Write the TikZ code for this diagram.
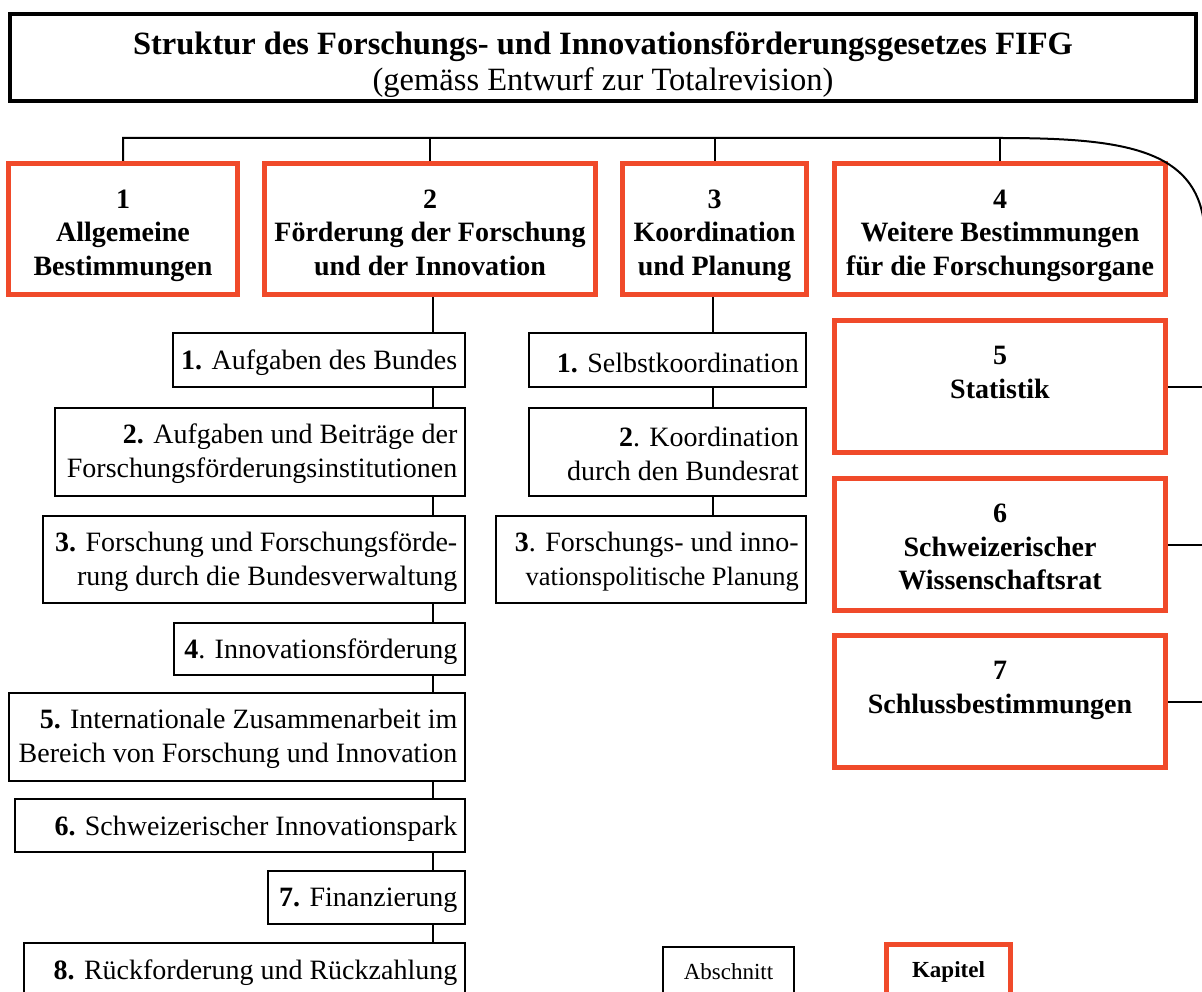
\documentclass[tikz,border=0pt]{standalone}
\usepackage{fontspec}
\setmainfont{Liberation Serif}
\definecolor{kapred}{RGB}{240,74,42}
\newcommand\fifgkapfont{\fontsize{28}{33.5}\selectfont\bfseries}
\newcommand\fifgabsfont{\fontsize{28}{34}\selectfont}
\begin{document}
\begin{tikzpicture}[x=1pt,y=-1pt,
  kapbox/.style={draw=kapred, line width=5pt, fill=white, inner sep=0pt, anchor=north west},
  kaptext/.style={font=\fifgkapfont, align=center, inner sep=0pt, anchor=north},
  abox/.style={draw=black, line width=2.2pt, fill=white, inner sep=0pt, anchor=north east},
  atext/.style={font=\fifgabsfont, align=right, inner sep=0pt, anchor=east},
  conn/.style={draw=black, line width=2pt},
]
\useasboundingbox (0,0) rectangle (1202,992);
\clip (0,0) rectangle (1202,992);
\fill[white] (0,0) rectangle (1202,992);

% title
\node[draw=black, line width=4pt, fill=white, minimum width=1186pt, minimum height=87pt, inner sep=0pt, anchor=north west] (title) at (8,12) {};
\node[font=\fontsize{32.5}{36}\selectfont, align=center, inner sep=0pt] (titletext) at ([yshift=-7pt]title.center)
  {\textbf{Struktur des Forschungs- und Innovationsförderungsgesetzes FIFG}\\(gemäss Entwurf zur Totalrevision)};

% Kapitel
\node[kapbox, minimum width=229pt, minimum height=131pt] (k1) at (6,161) {};
\node[kaptext] (k1t) at ([yshift=-28.5pt]k1.north) {1\\Allgemeine\\Bestimmungen};
\node[kapbox, minimum width=331pt, minimum height=131pt] (k2) at (262,161) {};
\node[kaptext] (k2t) at ([yshift=-28.5pt]k2.north) {2\\Förderung der Forschung\\und der Innovation};
\node[kapbox, minimum width=184pt, minimum height=131pt] (k3) at (620,161) {};
\node[kaptext] (k3t) at ([yshift=-28.5pt]k3.north) {3\\Koordination\\und Planung};
\node[kapbox, minimum width=331pt, minimum height=131pt] (k4) at (832,161) {};
\node[kaptext] (k4t) at ([yshift=-28.5pt]k4.north) {4\\Weitere Bestimmungen\\für die Forschungsorgane};
\node[kapbox, minimum width=331pt, minimum height=132pt] (k5) at (832,318) {};
\node[kaptext] (k5t) at ([yshift=-28pt]k5.north) {5\\Statistik};
\node[kapbox, minimum width=331pt, minimum height=132pt] (k6) at (832,476) {};
\node[kaptext] (k6t) at ([yshift=-28pt]k6.north) {6\\Schweizerischer\\Wissenschaftsrat};
\node[kapbox, minimum width=331pt, minimum height=132pt] (k7) at (832,633) {};
\node[kaptext] (k7t) at ([yshift=-28pt]k7.north) {7\\Schlussbestimmungen};

% Abschnitte Kapitel 2
\node[abox, minimum width=291.8pt, minimum height=53.8pt] (a1) at (466,332) {};
\node[atext] (a1t) at ([xshift=-8.5pt,yshift=-3pt]a1.east) {\textbf{1.} Aufgaben des Bundes};
\node[abox, minimum width=409.8pt, minimum height=87.8pt] (a2) at (466,407) {};
\node[atext] (a2t) at ([xshift=-8.5pt,yshift=-2pt]a2.east) {\textbf{2.} Aufgaben und Beiträge der\\Forschungsförderungsinstitutionen};
\node[abox, minimum width=421.8pt, minimum height=86.8pt] (a3) at (466,515) {};
\node[atext] (a3t) at ([xshift=-8.5pt,yshift=-2pt]a3.east) {\textbf{3.} Forschung und Forschungsförde-\\rung durch die Bundesverwaltung};
\node[abox, minimum width=290.8pt, minimum height=51.8pt] (a4) at (466,622) {};
\node[atext] (a4t) at ([xshift=-8.5pt,yshift=-3pt]a4.east) {\textbf{4}. Innovationsförderung};
\node[abox, minimum width=455.8pt, minimum height=87.8pt] (a5) at (466,692) {};
\node[atext] (a5t) at ([xshift=-8.5pt,yshift=-2pt]a5.east) {\textbf{5.} Internationale Zusammenarbeit im\\Bereich von Forschung und Innovation};
\node[abox, minimum width=449.8pt, minimum height=52.8pt] (a6) at (466,798) {};
\node[atext] (a6t) at ([xshift=-8.5pt,yshift=-3pt]a6.east) {\textbf{6.} Schweizerischer Innovationspark};
\node[abox, minimum width=196.8pt, minimum height=52.8pt] (a7) at (466,870) {};
\node[atext] (a7t) at ([xshift=-8.5pt,yshift=-3pt]a7.east) {\textbf{7.} Finanzierung};
\node[abox, minimum width=440.8pt, minimum height=53.8pt] (a8) at (466,942) {};
\node[atext] (a8t) at ([xshift=-8.5pt,yshift=-3pt]a8.east) {\textbf{8.} Rückforderung und Rückzahlung};

% Abschnitte Kapitel 3
\node[abox, minimum width=276.8pt, minimum height=53.8pt] (b1) at (807,332) {};
\node[atext] (b1t) at ([xshift=-8pt,yshift=-3pt]b1.east) {\textbf{1.} Selbstkoordination};
\node[abox, minimum width=276.8pt, minimum height=87.8pt] (b2) at (807,407) {};
\node[atext] (b2t) at ([xshift=-8pt,yshift=-2pt]b2.east) {\textbf{2}. Koordination\\durch den Bundesrat};
\node[abox, minimum width=309.8pt, minimum height=86.8pt] (b3) at (807,515) {};
\node[atext] (b3t) at ([xshift=-8pt,yshift=-2pt]b3.east) {\textbf{3}. Forschungs- und inno-\\{\fontsize{26.5}{34}\selectfont vationspolitische Planung}};

% legend
\node[abox, minimum width=130.8pt, minimum height=49.8pt] (legA) at (795,946) {};
\node[font=\fontsize{23}{27}\selectfont, inner sep=0pt] (legAt) at (legA.center) {Abschnitt};
\node[kapbox, minimum width=124pt, minimum height=55pt] (legK) at (884,942) {};
\node[font=\fontsize{23}{27}\selectfont\bfseries, inner sep=0pt] (legKt) at (legK.center) {Kapitel};

% connectors
\coordinate (bus) at (0,138);
\coordinate (rail) at (1205,240);
\coordinate (sp2) at (433,0);
\coordinate (sp3) at (713,0);
\draw[conn] (k1.north) -- (k1.north |- bus) -- (k4.north |- bus)
  .. controls (1130,138) and (1205,150) .. (rail) -- (rail |- k7.east);
\foreach \k in {k2,k3,k4} \draw[conn] (\k.north) -- (\k.north |- bus);
\foreach \k in {k5,k6,k7} \draw[conn] (\k.east) -- (\k.east -| rail);
\foreach \p/\q in {k2/a1,a1/a2,a2/a3,a3/a4,a4/a5,a5/a6,a6/a7,a7/a8}
  \draw[conn] (\p.south -| sp2) -- (\q.north -| sp2);
\foreach \p/\q in {k3/b1,b1/b2,b2/b3}
  \draw[conn] (\p.south -| sp3) -- (\q.north -| sp3);
\end{tikzpicture}
\end{document}
